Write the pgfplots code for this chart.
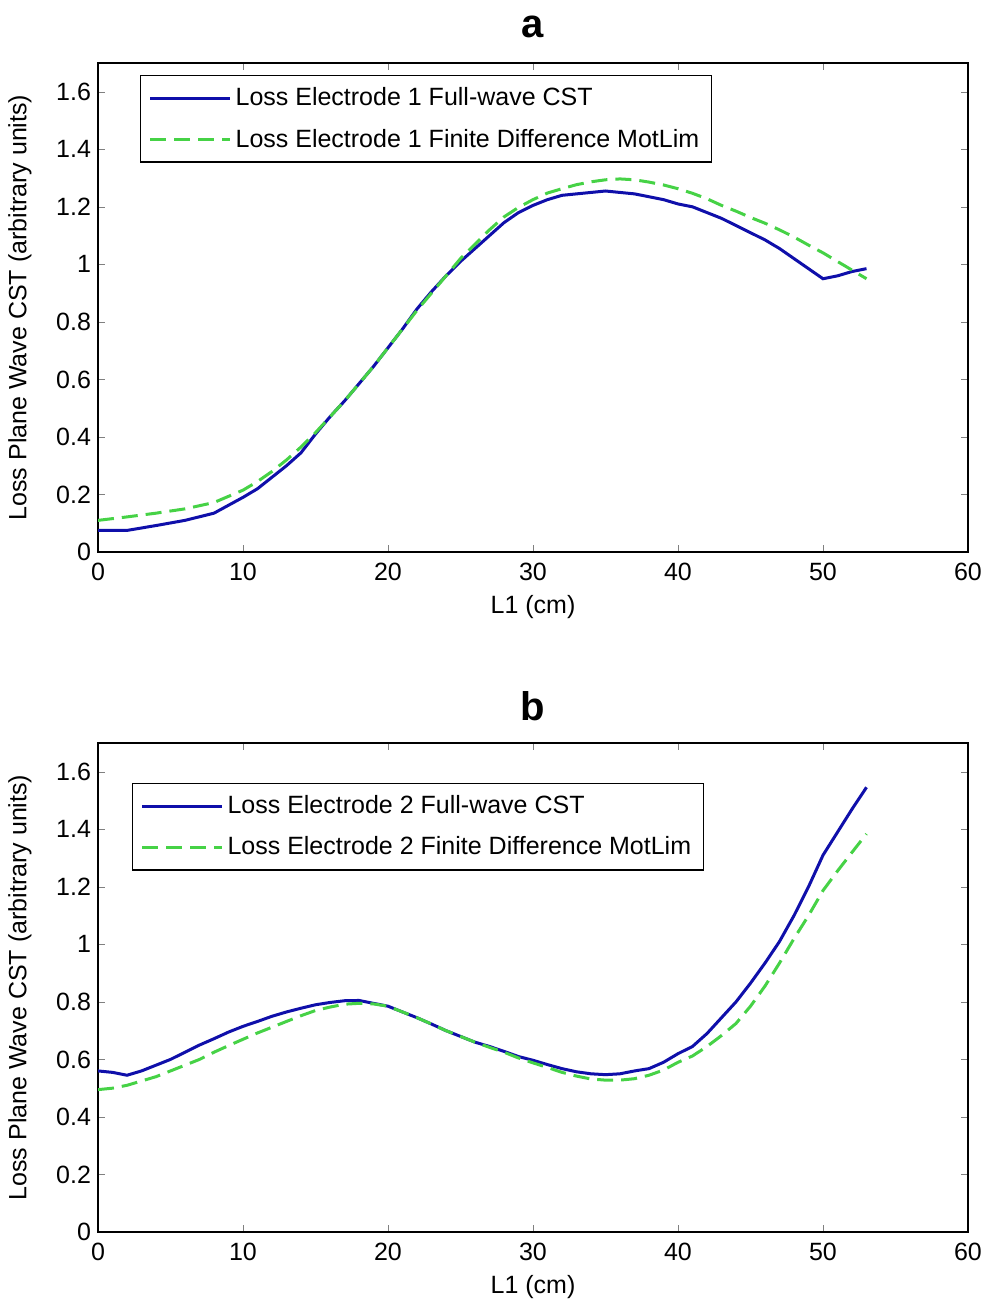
\documentclass[border=0pt]{standalone}
\usepackage{fontspec}
\setmainfont{Liberation Sans}
\usepackage{pgfplots}
\pgfplotsset{compat=1.18}

\definecolor{cstblue}{RGB}{15,15,170}
\definecolor{fdgreen}{RGB}{70,210,70}

\pgfplotsset{
  lossax/.style={
    width=435pt, height=244.5pt,
    scale only axis,
    anchor=south west,
    xmin=0, xmax=60, ymin=0, ymax=1.7,
    xtick={0,10,...,60},
    ytick={0,0.2,...,1.6},
    tick align=inside,
    major tick length=3.5pt,
    axis line style={line width=0.6pt},
    /pgf/number format/assume math mode=true,
    tick label style={font=\fontsize{12.5}{14}\selectfont},
    xticklabel style={yshift=-2pt},
    label style={font=\fontsize{12.5}{14}\selectfont},
    xlabel={L1 (cm)},
    ylabel={Loss Plane Wave CST (arbitrary units)},
    xlabel style={at={(axis description cs:0.5,-0.1125)}, anchor=center},
    ylabel style={at={(axis description cs:-0.0897,0.5)}, anchor=center, rotate=0},
    title style={font=\fontsize{20}{24}\selectfont\bfseries, at={(axis description cs:0.5,1.05)}, anchor=center, yshift=0pt},
    legend cell align=left,
    legend style={font=\fontsize{12.5}{14}\selectfont, draw=black, line width=0.6pt,
      inner xsep=4pt, inner ysep=4pt, row sep=6pt},
    legend image code/.code={\draw[#1] (0pt,0pt) -- (40pt,0pt);},
  },
  cst/.style={cstblue, line width=1.5pt},
  fd/.style={fdgreen, line width=1.5pt, dash pattern=on 8pt off 4pt},
}

\begin{document}
\begin{tikzpicture}
\useasboundingbox (0,0) rectangle (492pt,-652.5pt);

\begin{axis}[lossax, at={(49pt,-276pt)}, title={a},
    legend style={at={(axis description cs:0.0483,0.975)}, anchor=north west}]
\addplot[cst] coordinates {
(0,0.075)(2,0.075)(4,0.092)(6,0.11)(8,0.135)(10,0.19)(11,0.22)(12,0.26)(13,0.3)
(14,0.345)(15,0.41)(16,0.47)(17,0.525)(18,0.585)(19,0.645)(20,0.71)(21,0.775)
(22,0.845)(23,0.905)(24,0.96)(25,1.01)(26,1.055)(27,1.10)(28,1.145)(29,1.18)
(30,1.205)(31,1.225)(32,1.24)(33,1.245)(34,1.25)(35,1.255)(36,1.25)(37,1.245)
(38,1.235)(39,1.225)(40,1.21)(41,1.2)(42,1.18)(43,1.16)(44,1.135)(45,1.11)
(46,1.085)(47,1.055)(48,1.02)(49,0.985)(50,0.95)(51,0.96)(52,0.975)(53,0.985)
};
\addlegendentry{Loss Electrode 1 Full-wave CST}
\addplot[fd] coordinates {
(0,0.11)(2,0.122)(4,0.135)(6,0.15)(8,0.172)(10,0.215)(11,0.245)(12,0.28)(13,0.32)
(14,0.365)(15,0.415)(16,0.47)(17,0.525)(18,0.585)(19,0.645)(20,0.71)(21,0.775)
(22,0.84)(23,0.9)(24,0.96)(25,1.02)(26,1.07)(27,1.12)(28,1.165)(29,1.198)
(30,1.225)(31,1.248)(32,1.263)(33,1.277)(34,1.287)(35,1.294)(36,1.297)(37,1.294)
(38,1.286)(39,1.276)(40,1.263)(41,1.247)(42,1.228)(43,1.205)(44,1.185)(45,1.163)
(46,1.143)(47,1.12)(48,1.095)(49,1.067)(50,1.04)(51,1.01)(52,0.98)(53,0.95)
};
\addlegendentry{Loss Electrode 1 Finite Difference MotLim}
\end{axis}

\begin{axis}[lossax, at={(49pt,-616pt)}, title={b},
    legend style={at={(axis description cs:0.039,0.918)}, anchor=north west}]
\addplot[cst] coordinates {
(0,0.56)(1,0.555)(2,0.545)(3,0.56)(4,0.58)(5,0.6)(6,0.625)(7,0.65)(8,0.672)
(9,0.695)(10,0.715)(11,0.732)(12,0.75)(13,0.765)(14,0.778)(15,0.79)(16,0.798)
(17,0.804)(18,0.805)(19,0.795)(20,0.785)(21,0.765)(22,0.745)(23,0.723)(24,0.7)
(25,0.68)(26,0.66)(27,0.645)(28,0.628)(29,0.61)(30,0.597)(31,0.582)(32,0.568)
(33,0.557)(34,0.55)(35,0.547)(36,0.55)(37,0.56)(38,0.568)(39,0.59)(40,0.62)
(41,0.645)(42,0.69)(43,0.745)(44,0.80)(45,0.865)(46,0.935)(47,1.01)(48,1.10)
(49,1.2)(50,1.31)(51,1.39)(52,1.47)(53,1.546)
};
\addlegendentry{Loss Electrode 2 Full-wave CST}
\addplot[fd] coordinates {
(0,0.495)(1,0.5)(2,0.51)(3,0.525)(4,0.54)(5,0.56)(6,0.58)(7,0.6)(8,0.625)
(9,0.648)(10,0.67)(11,0.692)(12,0.712)(13,0.732)(14,0.752)(15,0.77)(16,0.782)
(17,0.792)(18,0.795)(19,0.793)(20,0.785)(21,0.765)(22,0.745)(23,0.723)(24,0.7)
(25,0.68)(26,0.66)(27,0.642)(28,0.625)(29,0.605)(30,0.588)(31,0.572)(32,0.555)
(33,0.542)(34,0.532)(35,0.528)(36,0.528)(37,0.533)(38,0.545)(39,0.563)(40,0.59)
(41,0.612)(42,0.645)(43,0.683)(44,0.725)(45,0.785)(46,0.855)(47,0.935)(48,1.02)
(49,1.10)(50,1.187)(51,1.255)(52,1.32)(53,1.384)
};
\addlegendentry{Loss Electrode 2 Finite Difference MotLim}
\end{axis}
\end{tikzpicture}
\end{document}
